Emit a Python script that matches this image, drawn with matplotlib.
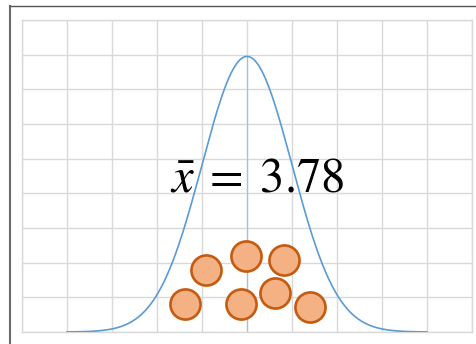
import numpy as np
import matplotlib
matplotlib.use("Agg")
import matplotlib.pyplot as plt
from matplotlib.lines import Line2D

# Distribution parameters of the bell curve
curve_mean = 0.0
curve_sd = 1.0
curve_peak = 7.95
curve_range = (-4.0, 4.0)

# Sample points (dots) shown under the curve
sample_x = [-0.92, -0.03, 0.82, -1.37, -0.14, 0.62, 1.39]
sample_y = [1.78, 2.18, 2.08, 0.81, 0.81, 1.12, 0.73]

mean_label = r"$\bar{x}\;=\;3.78$"

plt.rcParams["mathtext.fontset"] = "stix"

fig = plt.figure(figsize=(4.76, 3.44), dpi=100)
ax = fig.add_axes([22 / 476, 12 / 344, 450 / 476, 312 / 344])
ax.set_xlim(-5, 5)
ax.set_ylim(0, 9)
ax.set_xticks(np.arange(-5, 6, 1))
ax.set_yticks(np.arange(0, 10, 1))
ax.tick_params(length=0, labelbottom=False, labelleft=False)
ax.grid(True, color="#D9D9D9", linewidth=1.0)
for sp in ax.spines.values():
    sp.set_color("#D9D9D9")
    sp.set_linewidth(1.0)
ax.set_axisbelow(True)

# Normal density curve
xs = np.linspace(curve_range[0], curve_range[1], 400)
ys = curve_peak * np.exp(-0.5 * ((xs - curve_mean) / curve_sd) ** 2)
ax.plot(xs, ys, color="#5B9BD5", linewidth=1.2, zorder=3)

# Vertical marker at the mean
ax.plot([curve_mean, curve_mean], [0, curve_peak], color="#9DC3E6",
        linewidth=0.9, zorder=2.5)

ax.text(0.22, 4.45, mean_label, fontsize=35, ha="center", va="center",
        color="black", zorder=2)

ax.scatter(sample_x, sample_y, s=470, facecolor="#F4B183",
           edgecolor="#C55A11", linewidth=1.9, zorder=4, clip_on=False)

# Frame lines along the left and top edges of the figure
fig.add_artist(Line2D([10 / 476, 10 / 476], [0, 1 - 5.5 / 344],
                      transform=fig.transFigure, color="#6A6A6A", linewidth=1.5))
fig.add_artist(Line2D([10 / 476, 1], [1 - 5.5 / 344, 1 - 5.5 / 344],
                      transform=fig.transFigure, color="#555555", linewidth=1.0))

fig.savefig("out.png", dpi=100)
